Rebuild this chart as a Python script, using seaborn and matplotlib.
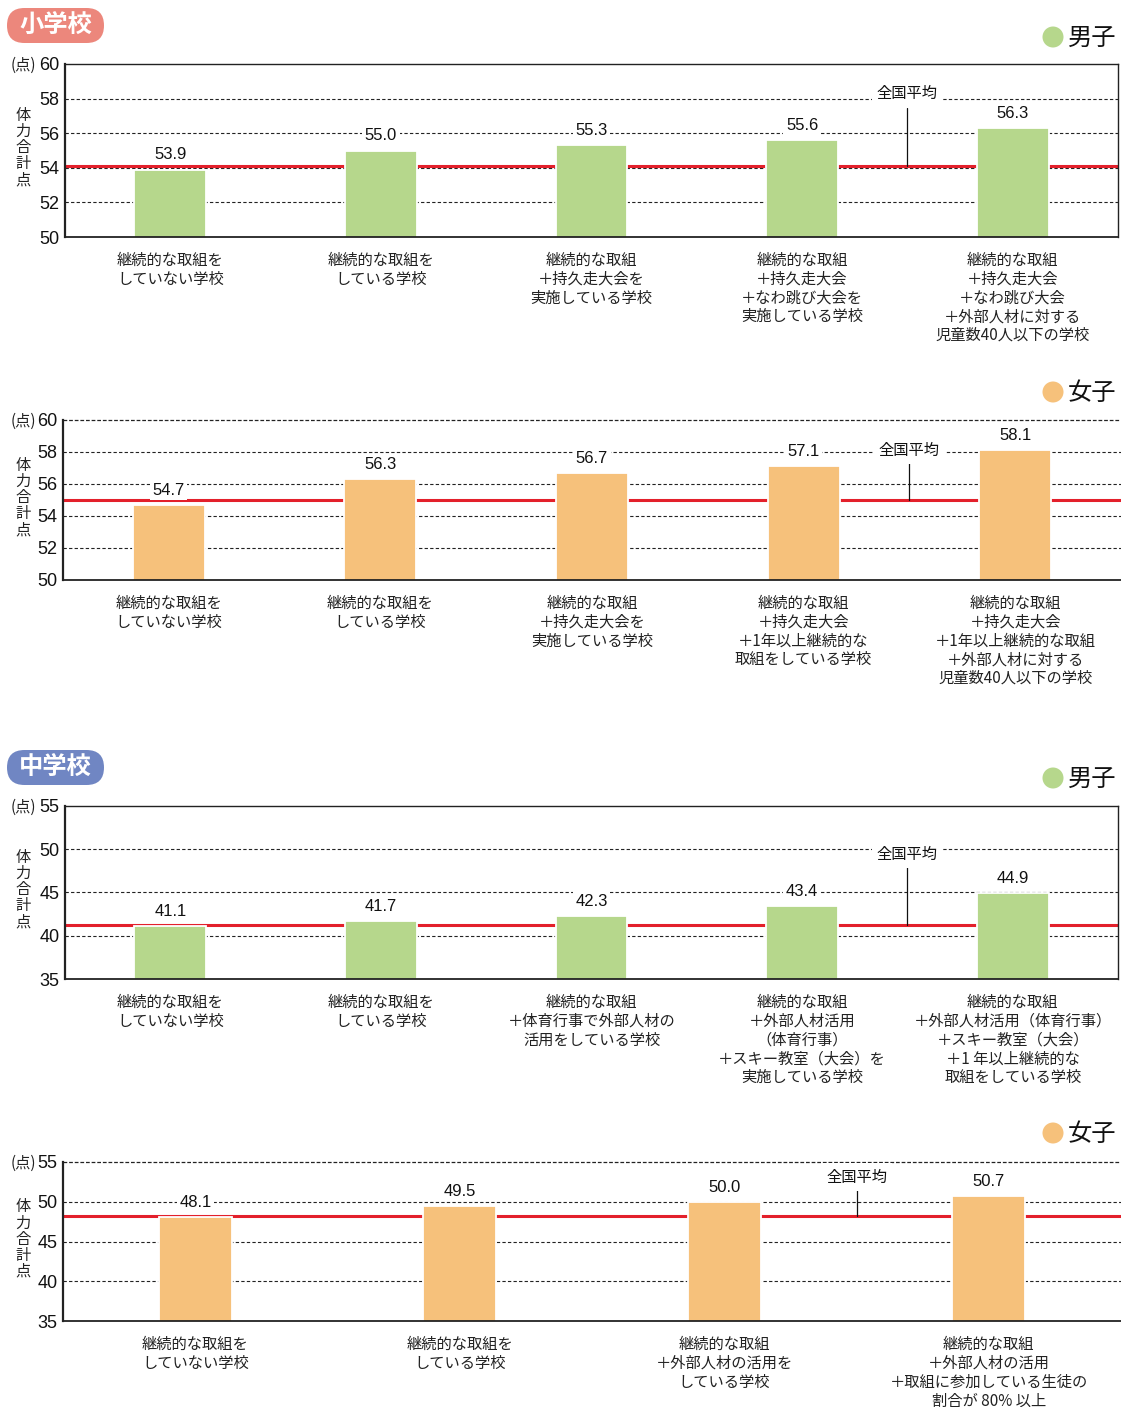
import matplotlib
matplotlib.use("Agg")
import matplotlib.pyplot as plt
import seaborn as sns
import pandas as pd
from matplotlib.patches import FancyBboxPatch, Circle

sns.set_theme(style="white")
plt.rcParams['font.family'] = ['Noto Sans CJK JP', 'DejaVu Sans']

# ---------------- data ----------------
es_boys_labels = [
    "継続的な取組を\nしていない学校",
    "継続的な取組を\nしている学校",
    "継続的な取組\n＋持久走大会を\n実施している学校",
    "継続的な取組\n＋持久走大会\n＋なわ跳び大会を\n実施している学校",
    "継続的な取組\n＋持久走大会\n＋なわ跳び大会\n＋外部人材に対する\n児童数40人以下の学校",
]
es_boys_values = [53.9, 55.0, 55.3, 55.6, 56.3]
es_boys_avg = 54.1

es_girls_labels = [
    "継続的な取組を\nしていない学校",
    "継続的な取組を\nしている学校",
    "継続的な取組\n＋持久走大会を\n実施している学校",
    "継続的な取組\n＋持久走大会\n＋1年以上継続的な\n取組をしている学校",
    "継続的な取組\n＋持久走大会\n＋1年以上継続的な取組\n＋外部人材に対する\n児童数40人以下の学校",
]
es_girls_values = [54.7, 56.3, 56.7, 57.1, 58.1]
es_girls_avg = 55.0

js_boys_labels = [
    "継続的な取組を\nしていない学校",
    "継続的な取組を\nしている学校",
    "継続的な取組\n＋体育行事で外部人材の\n活用をしている学校",
    "継続的な取組\n＋外部人材活用\n（体育行事）\n＋スキー教室（大会）を\n実施している学校",
    "継続的な取組\n＋外部人材活用（体育行事）\n＋スキー教室（大会）\n＋1 年以上継続的な\n取組をしている学校",
]
js_boys_values = [41.1, 41.7, 42.3, 43.4, 44.9]
js_boys_avg = 41.2

js_girls_labels = [
    "継続的な取組を\nしていない学校",
    "継続的な取組を\nしている学校",
    "継続的な取組\n＋外部人材の活用を\nしている学校",
    "継続的な取組\n＋外部人材の活用\n＋取組に参加している生徒の\n割合が 80% 以上",
]
js_girls_values = [48.1, 49.5, 50.0, 50.7]
js_girls_avg = 48.2

es_ticks = [50, 52, 54, 56, 58, 60]
js_ticks = [35, 40, 45, 50, 55]

GREEN = "#b6d78c"
ORANGE = "#f6c17b"
RED = "#e3202b"
PINK_BADGE = "#ec877c"
BLUE_BADGE = "#7086c3"

W, H = 1121, 1407
fig = plt.figure(figsize=(W / 100, H / 100), dpi=100)

# full-figure overlay in pixel units for badges / legends
ov = fig.add_axes([0, 0, 1, 1], zorder=-5)
ov.set_xlim(0, W)
ov.set_ylim(H, 0)
ov.axis("off")

NUM_FONT = ['Liberation Sans', 'DejaVu Sans']


def make_panel(box, labels, values, avg, ticks, color, bar_w, boxed,
               avg_x, avg_text_y, avg_line_top):
    left, right, top, bottom = box
    ax = fig.add_axes([left / W, 1 - bottom / H, (right - left) / W, (bottom - top) / H])
    df = pd.DataFrame({"cat": labels, "val": values})
    sns.barplot(data=df, x="cat", y="val", ax=ax, color=color, width=bar_w,
                saturation=1, edgecolor="white", linewidth=1.3, zorder=2)
    ax.set_ylim(ticks[0], ticks[-1])
    ax.set_xlim(-0.5, len(labels) - 0.5)
    ax.set_xlabel("")
    ax.set_ylabel("")

    # dashed gridlines
    for t in ticks[1:-1]:
        ax.axhline(t, color="#222222", lw=0.8, ls=(0, (3, 2)), zorder=0.5)
    if not boxed:
        ax.axhline(ticks[-1], color="#222222", lw=0.9, ls=(0, (3, 1.5)), zorder=0.5,
                   clip_on=False)
    # national average
    ax.axhline(avg, color=RED, lw=2.2, zorder=0.8)

    ax.set_yticks(ticks)
    ax.set_yticklabels([str(t) for t in ticks], fontsize=13, family=NUM_FONT)
    ax.tick_params(axis="y", length=0, pad=4, colors="#111111")
    ax.tick_params(axis="x", length=0, pad=11)
    ax.set_xticks(range(len(labels)))
    ax.set_xticklabels(labels, fontsize=11, linespacing=1.13, color="#222222")

    for name, sp in ax.spines.items():
        sp.set_color("#222222")
    ax.spines["left"].set_linewidth(1.6)
    ax.spines["bottom"].set_linewidth(1.3)
    if boxed:
        ax.spines["top"].set_linewidth(1.0)
        ax.spines["right"].set_linewidth(1.0)
    else:
        ax.spines["top"].set_visible(False)
        ax.spines["right"].set_visible(False)

    # value labels
    for i, v in enumerate(values):
        ax.annotate(f"{v:.1f}", xy=(i, v), xytext=(0, 10.5), textcoords="offset points",
                    ha="center", va="center", fontsize=12, family=NUM_FONT,
                    color="#111111", zorder=4,
                    bbox=dict(boxstyle="square,pad=0.15", fc="white", ec="none"))

    # national average callout
    ax.text(avg_x, avg_text_y, "全国平均", ha="center", va="center", fontsize=11,
            color="#111111", zorder=4,
            bbox=dict(boxstyle="square,pad=0.35", fc="white", ec="none"))
    ax.plot([avg_x, avg_x], [avg_line_top, avg], color="#111111", lw=0.9, zorder=3)

    # unit and axis title
    ylab_px = top + 1
    fig.text(36 / W, 1 - ylab_px / H, "(点)", ha="right", va="center", fontsize=11,
             color="#222222")
    mid = top + (bottom - top) * 0.485
    fig.text(23 / W, 1 - mid / H, "体\n力\n合\n計\n点", ha="center", va="center",
             fontsize=11, linespacing=0.93, color="#222222")
    return ax


def legend(y, color, text):
    ov.add_patch(Circle((1053, y), 10.5, color=color, lw=0))
    ov.text(1068, y + 1, text, ha="left", va="center", fontsize=17.5, color="#111111")


def badge(y0, y1, color, text):
    ov.add_patch(FancyBboxPatch((7, y0), 97, y1 - y0,
                                boxstyle="round,pad=0,rounding_size=17.5",
                                fc=color, ec="none"))
    ov.text(55.5, (y0 + y1) / 2, text, ha="center", va="center", fontsize=17.5,
            fontweight="bold", color="white")


badge(8, 43, PINK_BADGE, "小学校")
badge(750, 785, BLUE_BADGE, "中学校")
legend(37, GREEN, "男子")
legend(392, ORANGE, "女子")
legend(778, GREEN, "男子")
legend(1133, ORANGE, "女子")

make_panel((65, 1118, 64, 237), es_boys_labels, es_boys_values, es_boys_avg,
           es_ticks, GREEN, 0.34, True, 3.5, 58.27, 57.45)
make_panel((63, 1121, 420, 580), es_girls_labels, es_girls_values, es_girls_avg,
           es_ticks, ORANGE, 0.34, False, 3.5, 58.12, 57.4)
make_panel((65, 1118, 806, 979), js_boys_labels, js_boys_values, js_boys_avg,
           js_ticks, GREEN, 0.34, True, 3.5, 49.45, 47.95)
make_panel((63, 1121, 1162, 1321), js_girls_labels, js_girls_values, js_girls_avg,
           js_ticks, ORANGE, 0.275, False, 2.5, 53.1, 51.6)

fig.savefig("out.png", dpi=100, facecolor="white")
